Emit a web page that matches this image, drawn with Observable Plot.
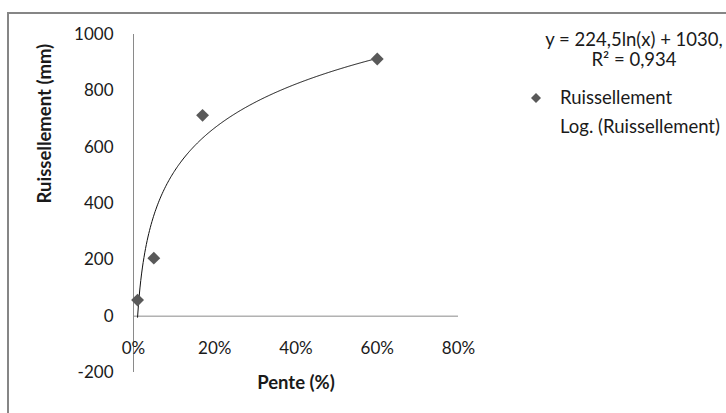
<!DOCTYPE html>
<html><head><meta charset="utf-8">
<script src="https://cdn.jsdelivr.net/npm/d3@7"></script>
<script src="https://cdn.jsdelivr.net/npm/@observablehq/plot@0.6"></script>
<style>body{margin:0;background:#fff;} #chart{position:relative;width:726px;height:413px;}</style>
</head><body><div id="chart"></div>
<script>
// Data
const pente = [0.01, 0.05, 0.17, 0.60];            // Pente (fraction)
const ruissellement = [57, 206, 713, 913];          // Ruissellement (mm)
const xTicks = [0, 0.2, 0.4, 0.6, 0.8];
const xTickLabels = ["0%", "20%", "40%", "60%", "80%"];
const yTicks = [-200, 0, 200, 400, 600, 800, 1000];
const yTickLabels = ["-200", "0", "200", "400", "600", "800", "1000"];
// Logarithmic trendline shown on the chart: y = 224,5 ln(x) + 1030
const trendSlope = 224.5;
const trendIntercept = 1030;
const trendLabel = ["y = 224,5ln(x) + 1030,", "R² = 0,934"];
const seriesName = "Ruissellement";
const trendName = "Log. (Ruissellement)";

const FONT = "Lato, 'Open Sans', sans-serif";
const points = pente.map((x, i) => ({x, y: ruissellement[i]}));
const xMin = d3.min(pente), xMax = d3.max(pente);
const trend = d3.range(0, 301).map(i => {
  const x = xMin + (xMax - xMin) * i / 300;
  return {x, y: trendSlope * Math.log(x) + trendIntercept};
});

const chart = Plot.plot({
  width: 726, height: 413,
  marginLeft: 133, marginRight: 268, marginTop: 34, marginBottom: 41,
  x: {domain: [0, 0.8], axis: null},
  y: {domain: [-200, 1000], axis: null},
  style: {fontFamily: FONT, background: "#fff", color: "#1a1a1a"},
  marks: [
    Plot.ruleX([0], {y1: -200, y2: 1000, stroke: "#8a8a8a", strokeWidth: 1}),
    Plot.ruleY([0], {x1: 0, x2: 0.8, stroke: "#8a8a8a", strokeWidth: 1}),
    Plot.text(yTicks, {x: 0, y: d => d, text: (d, i) => yTickLabels[i], textAnchor: "end", dx: -20, fontSize: 17, fill: "#1a1a1a"}),
    Plot.text(xTicks, {x: d => d, y: 0, text: (d, i) => xTickLabels[i], dy: 32, fontSize: 17, fill: "#1a1a1a"}),
    Plot.line(trend, {x: "x", y: "y", stroke: "#111", strokeWidth: 1}),
    Plot.dot(points, {x: "x", y: "y", symbol: "diamond2", r: 5.8, fill: "#595959", stroke: "none"}),
    Plot.text(["Ruissellement (mm)"], {frameAnchor: "left", dx: -88, rotate: -90, fontSize: 18.5, fontWeight: "bold", fill: "#1a1a1a"}),
    Plot.text(["Pente (%)"], {frameAnchor: "bottom", dy: 16, fontSize: 18.5, fontWeight: "bold", fill: "#1a1a1a"})
  ]
});
document.getElementById("chart").appendChild(chart);

const svg = d3.select(chart);
// outer chart-area border (top and left visible)
svg.append("path").attr("d", "M8,413V13H726").attr("fill", "none").attr("stroke", "#868686").attr("stroke-width", 2);
// legend
const LF = 18.5;
const eq = svg.append("text").attr("font-family", FONT).attr("font-size", LF).attr("fill", "#1a1a1a").attr("text-anchor", "middle");
eq.append("tspan").attr("x", 634).attr("y", 46).text(trendLabel[0]);
eq.append("tspan").attr("x", 634).attr("y", 66).text(trendLabel[1]);
svg.append("path").attr("d", d3.symbol(d3.symbolDiamond2, 64)()).attr("transform", "translate(536,98)").attr("fill", "#595959");
svg.append("text").attr("x", 560).attr("y", 104).attr("text-anchor", "start").attr("font-family", FONT).attr("font-size", LF).attr("fill", "#1a1a1a").text(seriesName);
svg.append("text").attr("x", 560).attr("y", 133).attr("text-anchor", "start").attr("font-family", FONT).attr("font-size", LF).attr("fill", "#1a1a1a").text(trendName);
</script></body></html>
